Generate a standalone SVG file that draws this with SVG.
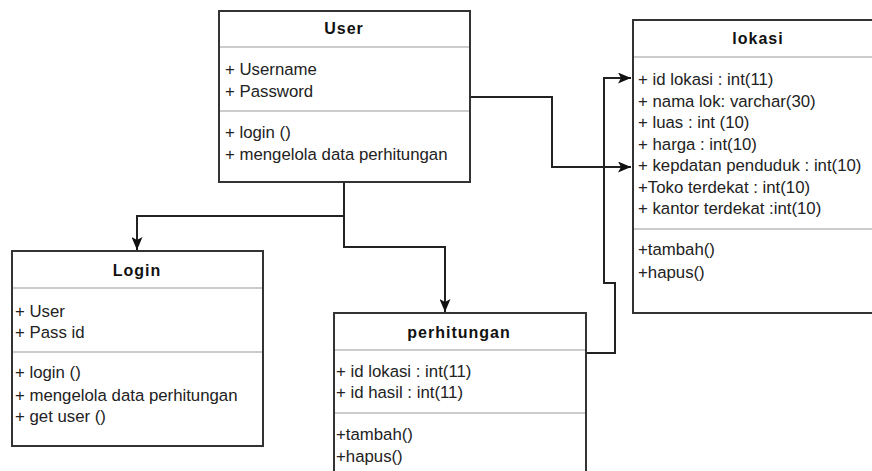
<svg xmlns="http://www.w3.org/2000/svg" width="872" height="471" viewBox="0 0 872 471">
<defs>
<marker id="arr" viewBox="0 0 13 11" refX="13" refY="5.5" markerWidth="13" markerHeight="11" markerUnits="userSpaceOnUse" orient="auto">
<path d="M0,0 L13,5.5 L0,11 L3,5.5 Z" fill="#111"/>
</marker>
</defs>
<style>
.box{fill:#fff;stroke:#333;stroke-width:2}
.sep{stroke:#bbb;stroke-width:1.5}
.t{font-family:"Liberation Sans",Arial,sans-serif;font-size:16.8px;fill:#222}
.h{font-family:"Liberation Sans",Arial,sans-serif;font-size:16px;font-weight:bold;fill:#111;text-anchor:middle;letter-spacing:1px}
.c{fill:none;stroke:#222;stroke-width:2}
</style>
<rect width="872" height="471" fill="#fff"/>
<g id="connectors">
<path class="c" d="M470,97 H552 V167 H631" marker-end="url(#arr)"/>
<path class="c" d="M586,353 H615 V283 H604 V78 H631" marker-end="url(#arr)"/>
<path class="c" d="M344,182 V216 H137 V250" marker-end="url(#arr)"/>
<path class="c" d="M344,216 V247 H445 V312" marker-end="url(#arr)"/>
</g>
<g id="User">
<rect class="box" x="219" y="11" width="251" height="171"/>
<line class="sep" x1="220" y1="47" x2="469" y2="47"/>
<line class="sep" x1="220" y1="111" x2="469" y2="111"/>
<text class="h" x="344" y="34">User</text>
<text class="t" x="225" y="75">+ Username</text>
<text class="t" x="225" y="97">+ Password</text>
<text class="t" x="225" y="138">+ login ()</text>
<text class="t" x="225" y="160">+ mengelola data perhitungan</text>
</g>
<g id="lokasi">
<rect class="box" x="633" y="20" width="252" height="293"/>
<line class="sep" x1="634" y1="57" x2="884" y2="57"/>
<line class="sep" x1="634" y1="229" x2="884" y2="229"/>
<text class="h" x="758" y="44">lokasi</text>
<text class="t" x="638" y="85">+ id lokasi : int(11)</text>
<text class="t" x="638" y="107">+ nama lok: varchar(30)</text>
<text class="t" x="638" y="128">+ luas : int (10)</text>
<text class="t" x="638" y="150">+ harga : int(10)</text>
<text class="t" x="638" y="171">+ kepdatan penduduk : int(10)</text>
<text class="t" x="638" y="193">+Toko terdekat : int(10)</text>
<text class="t" x="638" y="214">+ kantor terdekat :int(10)</text>
<text class="t" x="638" y="255">+tambah()</text>
<text class="t" x="638" y="278">+hapus()</text>
</g>
<g id="Login">
<rect class="box" x="12" y="251" width="251" height="195"/>
<line class="sep" x1="13" y1="288" x2="262" y2="288"/>
<line class="sep" x1="13" y1="352" x2="262" y2="352"/>
<text class="h" x="137" y="276">Login</text>
<text class="t" x="15" y="317">+ User</text>
<text class="t" x="15" y="338">+ Pass id</text>
<text class="t" x="15" y="378">+ login ()</text>
<text class="t" x="15" y="401">+ mengelola data perhitungan</text>
<text class="t" x="15" y="422">+ get user ()</text>
</g>
<g id="perhitungan">
<rect class="box" x="334" y="313" width="252" height="170"/>
<line class="sep" x1="335" y1="350" x2="585" y2="350"/>
<line class="sep" x1="335" y1="413" x2="585" y2="413"/>
<text class="h" x="459" y="338">perhitungan</text>
<text class="t" x="336" y="377">+ id lokasi : int(11)</text>
<text class="t" x="336" y="398">+ id hasil : int(11)</text>
<text class="t" x="336" y="440">+tambah()</text>
<text class="t" x="336" y="462">+hapus()</text>
</g>
</svg>
